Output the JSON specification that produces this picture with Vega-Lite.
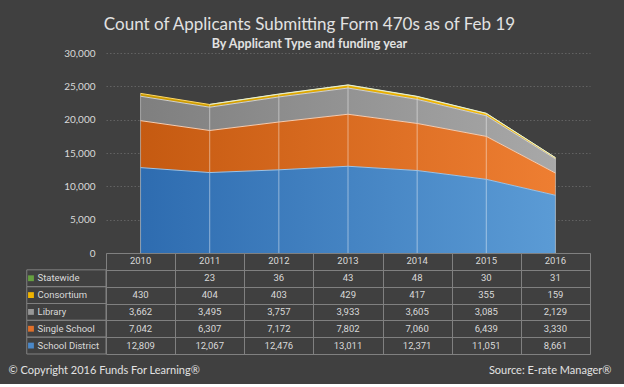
{
  "$schema": "https://vega.github.io/schema/vega-lite/v6.json",
  "background": "#404040",
  "padding": {"left": 8, "right": 13, "top": 15, "bottom": 9},
  "title": {
    "text": "Count of Applicants Submitting Form 470s as of Feb 19",
    "subtitle": "By  Applicant Type and funding year",
    "anchor": "middle",
    "font": "Lato",
    "fontSize": 17,
    "fontWeight": "normal",
    "color": "#e2e2e2",
    "subtitleFont": "Lato",
    "subtitleFontSize": 12.5,
    "subtitleFontWeight": "bold",
    "subtitleColor": "#e2e2e2",
    "subtitlePadding": 4,
    "offset": -3
  },
  "datasets": {
    "counts": [
      {"year": "2010", "type": "School District", "value": 12809},
      {"year": "2011", "type": "School District", "value": 12067},
      {"year": "2012", "type": "School District", "value": 12476},
      {"year": "2013", "type": "School District", "value": 13011},
      {"year": "2014", "type": "School District", "value": 12371},
      {"year": "2015", "type": "School District", "value": 11051},
      {"year": "2016", "type": "School District", "value": 8661},
      {"year": "2010", "type": "Single School", "value": 7042},
      {"year": "2011", "type": "Single School", "value": 6307},
      {"year": "2012", "type": "Single School", "value": 7172},
      {"year": "2013", "type": "Single School", "value": 7802},
      {"year": "2014", "type": "Single School", "value": 7060},
      {"year": "2015", "type": "Single School", "value": 6439},
      {"year": "2016", "type": "Single School", "value": 3330},
      {"year": "2010", "type": "Library", "value": 3662},
      {"year": "2011", "type": "Library", "value": 3495},
      {"year": "2012", "type": "Library", "value": 3757},
      {"year": "2013", "type": "Library", "value": 3933},
      {"year": "2014", "type": "Library", "value": 3605},
      {"year": "2015", "type": "Library", "value": 3085},
      {"year": "2016", "type": "Library", "value": 2129},
      {"year": "2010", "type": "Consortium", "value": 430},
      {"year": "2011", "type": "Consortium", "value": 404},
      {"year": "2012", "type": "Consortium", "value": 403},
      {"year": "2013", "type": "Consortium", "value": 429},
      {"year": "2014", "type": "Consortium", "value": 417},
      {"year": "2015", "type": "Consortium", "value": 355},
      {"year": "2016", "type": "Consortium", "value": 159},
      {"year": "2011", "type": "Statewide", "value": 23},
      {"year": "2012", "type": "Statewide", "value": 36},
      {"year": "2013", "type": "Statewide", "value": 43},
      {"year": "2014", "type": "Statewide", "value": 48},
      {"year": "2015", "type": "Statewide", "value": 30},
      {"year": "2016", "type": "Statewide", "value": 31}
    ],
    "types": [
      {"type": "Statewide", "rank": 5},
      {"type": "Consortium", "rank": 4},
      {"type": "Library", "rank": 3},
      {"type": "Single School", "rank": 2},
      {"type": "School District", "rank": 1}
    ]
  },
  "spacing": 0,
  "bounds": "flush",
  "vconcat": [
    {
      "width": 484,
      "height": 200,
      "data": {"name": "counts"},
      "transform": [
        {"lookup": "type", "from": {"data": {"name": "types"}, "key": "type", "fields": ["rank"]}},
        {"stack": "value", "groupby": ["year"], "sort": [{"field": "rank", "order": "ascending"}], "as": ["v0", "v1"]}
      ],
      "encoding": {
        "x": {"field": "year", "type": "ordinal", "scale": {"type": "point", "padding": 0.5}, "axis": null},
        "y": {
          "field": "v1", "type": "quantitative",
          "scale": {"domain": [0, 30000]},
          "axis": {
            "values": [0, 5000, 10000, 15000, 20000, 25000, 30000],
            "labelExpr": "format(datum.value, ',')",
            "title": null,
            "domain": false,
            "ticks": false,
            "grid": true,
            "gridColor": "#626262",
            "gridDash": [1.5, 2],
            "gridWidth": 1,
            "labelColor": "#d9d9d9",
            "labelFont": "Lato",
            "labelFontSize": 10,
            "labelPadding": 11
          }
        }
      },
      "layer": [
        {
          "transform": [{"filter": "datum.type === 'School District'"}],
          "mark": {"type": "area", "color": {"gradient": "linear", "x1": 0, "y1": 0, "x2": 1, "y2": 0, "stops": [{"offset": 0, "color": "#2e6cb0"}, {"offset": 1, "color": "#5b9bd5"}]}},
          "encoding": {"y2": {"field": "v0"}}
        },
        {
          "transform": [{"filter": "datum.type === 'Single School'"}],
          "mark": {"type": "area", "color": {"gradient": "linear", "x1": 0, "y1": 0, "x2": 1, "y2": 0, "stops": [{"offset": 0, "color": "#c55a11"}, {"offset": 1, "color": "#ee7e32"}]}},
          "encoding": {"y2": {"field": "v0"}}
        },
        {
          "transform": [{"filter": "datum.type === 'Library'"}],
          "mark": {"type": "area", "color": {"gradient": "linear", "x1": 0, "y1": 0, "x2": 1, "y2": 0, "stops": [{"offset": 0, "color": "#7f7f7f"}, {"offset": 1, "color": "#a8a8a8"}]}},
          "encoding": {"y2": {"field": "v0"}}
        },
        {
          "transform": [{"filter": "datum.type === 'Consortium'"}],
          "mark": {"type": "area", "color": {"gradient": "linear", "x1": 0, "y1": 0, "x2": 1, "y2": 0, "stops": [{"offset": 0, "color": "#c99800"}, {"offset": 1, "color": "#ffc000"}]}},
          "encoding": {"y2": {"field": "v0"}}
        },
        {
          "transform": [{"filter": "datum.type === 'Statewide'"}],
          "mark": {"type": "area", "color": {"gradient": "linear", "x1": 0, "y1": 0, "x2": 1, "y2": 0, "stops": [{"offset": 0, "color": "#548235"}, {"offset": 1, "color": "#70ad47"}]}},
          "encoding": {"y2": {"field": "v0"}}
        },
        {
          "mark": {"type": "rule", "color": "#ffffff", "opacity": 0.45, "strokeWidth": 1},
          "encoding": {
            "y": {"aggregate": "sum", "field": "value", "type": "quantitative"},
            "y2": {"datum": 0}
          }
        },
        {
          "mark": {"type": "line", "strokeWidth": 1},
          "encoding": {
            "stroke": {
              "field": "type", "type": "nominal", "legend": null,
              "scale": {
                "domain": ["School District", "Single School", "Library", "Consortium", "Statewide"],
                "range": ["#9dc3e6", "#f8cbad", "#d0d0d0", "#ffd966", "#e2f0d9"]
              }
            }
          }
        }
      ]
    },
    {
      "width": 484,
      "height": 101,
      "encoding": {
        "x": {
          "field": "year", "type": "ordinal",
          "scale": {"type": "band", "domain": ["2010", "2011", "2012", "2013", "2014", "2015", "2016"], "paddingInner": 0, "paddingOuter": 0},
          "axis": {
            "orient": "bottom",
            "labels": false,
            "ticks": false,
            "domain": false,
            "grid": true,
            "tickBand": "extent",
            "gridColor": "#808080",
            "gridWidth": 1,
            "title": "Source: E-rate Manager®",
            "titleX": 505,
            "titleY": 16,
            "titleAlign": "right",
            "titleBaseline": "middle",
            "titleFont": "Lato",
            "titleFontSize": 11,
            "titleFontWeight": "normal",
            "titleColor": "#e2e2e2"
          }
        },
        "y": {
          "field": "type", "type": "nominal",
          "scale": {"type": "band", "domain": ["Year", "Statewide", "Consortium", "Library", "Single School", "School District"], "paddingInner": 0, "paddingOuter": 0},
          "axis": {
            "labels": false,
            "ticks": false,
            "domain": false,
            "grid": true,
            "tickBand": "extent",
            "gridColor": "#808080",
            "gridWidth": 1,
            "title": "© Copyright 2016 Funds For Learning®",
            "titleAngle": 0,
            "titleX": -98,
            "titleY": 117,
            "titleAlign": "left",
            "titleBaseline": "middle",
            "titleFont": "Lato",
            "titleFontSize": 11,
            "titleFontWeight": "normal",
            "titleColor": "#e2e2e2"
          }
        }
      },
      "layer": [
        {
          "data": {"name": "counts"},
          "transform": [{"aggregate": [{"op": "count", "as": "n"}], "groupby": ["year"]}],
          "mark": {"type": "text", "font": "Roboto", "fontSize": 9.5, "color": "#d9d9d9"},
          "encoding": {
            "y": {"datum": "Year"},
            "text": {"field": "year"}
          }
        },
        {
          "data": {"name": "counts"},
          "mark": {"type": "text", "font": "Roboto", "fontSize": 9.5, "color": "#d9d9d9"},
          "encoding": {
            "text": {"field": "value", "format": ","}
          }
        },
        {
          "data": {"name": "types"},
          "mark": {"type": "rect", "fill": "transparent", "stroke": "#808080", "strokeWidth": 1},
          "encoding": {
            "x": {"datum": "2010", "bandPosition": -1.146},
            "x2": {"datum": "2010", "bandPosition": 0}
          }
        },
        {
          "data": {"name": "types"},
          "mark": {"type": "point", "shape": "square", "filled": true, "size": 34, "opacity": 1},
          "encoding": {
            "x": {"datum": "2010", "bandPosition": -1.085},
            "color": {
              "field": "type", "type": "nominal", "legend": null,
              "scale": {
                "domain": ["School District", "Single School", "Library", "Consortium", "Statewide"],
                "range": ["#4a88c8", "#e0702a", "#979797", "#f0b400", "#66a040"]
              }
            }
          }
        },
        {
          "data": {"name": "types"},
          "mark": {"type": "text", "align": "left", "font": "Roboto", "fontSize": 9.5, "color": "#d9d9d9"},
          "encoding": {
            "x": {"datum": "2010", "bandPosition": -0.99},
            "text": {"field": "type"}
          }
        }
      ]
    }
  ],
  "config": {
    "view": {"stroke": null},
    "axis": {"labelFont": "Lato", "titleFont": "Lato"}
  }
}
